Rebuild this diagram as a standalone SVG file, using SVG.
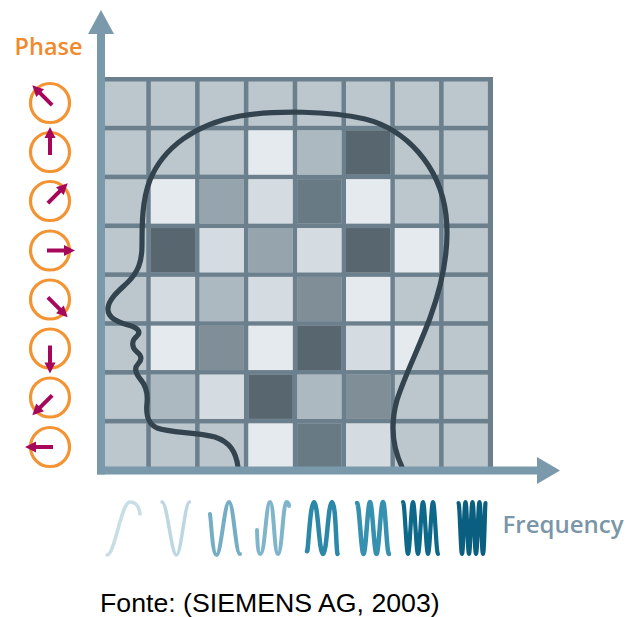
<svg xmlns="http://www.w3.org/2000/svg" xmlns:xlink="http://www.w3.org/1999/xlink" width="628" height="617" viewBox="0 0 628 617">
  <style>
    .axis { fill: #7a99aa; }
    .cell { stroke: none; }
    .d { fill: #bcc6cd; }
    .v { fill: #e5eaee; }
    .l { fill: #d4dce2; }
    .m1 { fill: #acb9c0; }
    .m2 { fill: #95a4ad; }
    .m3 { fill: #7f8e97; }
    .k1 { fill: #687a84; }
    .k2 { fill: #58676f; }
    .head { fill: none; stroke: #34444f; stroke-width: 5.2; stroke-linecap: round; stroke-linejoin: round; }
    .ring { fill: none; stroke: #f39332; stroke-width: 3.2; }
    .ph-arrow line { stroke: #a6075b; stroke-width: 4; }
    .ph-arrow polygon { fill: #a6075b; }
    .wave { fill: none; stroke-linecap: round; stroke-linejoin: round; }
    .lbl { font-family: "Open Sans", "Noto Sans", sans-serif; font-weight: 600; font-size: 23.5px; }
    .src { font-family: "Liberation Sans", Arial, sans-serif; font-size: 26.7px; fill: #000; }
  </style>
  <defs>
    <path id="head-shape" d="M238,467 C236,452 230,442 215,437 C195,432 170,433 157,428 C146,423 146,412 147,403 C148,393 146,386 141,380 C135,373 134,368 138,364 C143,359 141,355 136,351 C131,346 132,340 137,336 C142,331 136,327 128,325 C118,322 107,318 108,308 C109,298 120,290 128,282 C138,272 142,262 142,245 C142,225 142,200 150,180 C163,148 195,124 240,116 C275,110 330,111 365,119 C405,129 440,165 446,215 C450,250 442,285 430,318 C418,350 405,375 397,400 C390,425 393,448 402,467"/>
    <clipPath id="head-clip">
      <path d="M238,467 C236,452 230,442 215,437 C195,432 170,433 157,428 C146,423 146,412 147,403 C148,393 146,386 141,380 C135,373 134,368 138,364 C143,359 141,355 136,351 C131,346 132,340 137,336 C142,331 136,327 128,325 C118,322 107,318 108,308 C109,298 120,290 128,282 C138,272 142,262 142,245 C142,225 142,200 150,180 C163,148 195,124 240,116 C275,110 330,111 365,119 C405,129 440,165 446,215 C450,250 442,285 430,318 C418,350 405,375 397,400 C390,425 393,448 402,467 Z"/>
    </clipPath>
    <g id="ph-arrow" class="ph-arrow">
      <line x1="-3" y1="0" x2="15" y2="0"/>
      <polygon points="25,0 14,-5.5 14,5.5"/>
    </g>
  </defs>

  <!-- grid: line colour underneath, cells on top -->
  <g id="grid">
    <rect x="100" y="77" width="393" height="393" fill="#6b7f8c"/>
    <g id="base-cells" class="d">
      <rect x="102" y="81.5" width="44.3" height="44.3"/><rect x="150.8" y="81.5" width="44.3" height="44.3"/><rect x="199.6" y="81.5" width="44.3" height="44.3"/><rect x="248.4" y="81.5" width="44.3" height="44.3"/><rect x="297.2" y="81.5" width="44.3" height="44.3"/><rect x="346" y="81.5" width="44.3" height="44.3"/><rect x="394.8" y="81.5" width="44.3" height="44.3"/><rect x="443.6" y="81.5" width="44.3" height="44.3"/>
      <rect x="102" y="130.35" width="44.3" height="44.3"/><rect x="150.8" y="130.35" width="44.3" height="44.3"/><rect x="199.6" y="130.35" width="44.3" height="44.3"/><rect x="248.4" y="130.35" width="44.3" height="44.3"/><rect x="297.2" y="130.35" width="44.3" height="44.3"/><rect x="346" y="130.35" width="44.3" height="44.3"/><rect x="394.8" y="130.35" width="44.3" height="44.3"/><rect x="443.6" y="130.35" width="44.3" height="44.3"/>
      <rect x="102" y="179.2" width="44.3" height="44.3"/><rect x="150.8" y="179.2" width="44.3" height="44.3"/><rect x="199.6" y="179.2" width="44.3" height="44.3"/><rect x="248.4" y="179.2" width="44.3" height="44.3"/><rect x="297.2" y="179.2" width="44.3" height="44.3"/><rect x="346" y="179.2" width="44.3" height="44.3"/><rect x="394.8" y="179.2" width="44.3" height="44.3"/><rect x="443.6" y="179.2" width="44.3" height="44.3"/>
      <rect x="102" y="228.05" width="44.3" height="44.3"/><rect x="150.8" y="228.05" width="44.3" height="44.3"/><rect x="199.6" y="228.05" width="44.3" height="44.3"/><rect x="248.4" y="228.05" width="44.3" height="44.3"/><rect x="297.2" y="228.05" width="44.3" height="44.3"/><rect x="346" y="228.05" width="44.3" height="44.3"/><rect x="394.8" y="228.05" width="44.3" height="44.3"/><rect x="443.6" y="228.05" width="44.3" height="44.3"/>
      <rect x="102" y="276.9" width="44.3" height="44.3"/><rect x="150.8" y="276.9" width="44.3" height="44.3"/><rect x="199.6" y="276.9" width="44.3" height="44.3"/><rect x="248.4" y="276.9" width="44.3" height="44.3"/><rect x="297.2" y="276.9" width="44.3" height="44.3"/><rect x="346" y="276.9" width="44.3" height="44.3"/><rect x="394.8" y="276.9" width="44.3" height="44.3"/><rect x="443.6" y="276.9" width="44.3" height="44.3"/>
      <rect x="102" y="325.75" width="44.3" height="44.3"/><rect x="150.8" y="325.75" width="44.3" height="44.3"/><rect x="199.6" y="325.75" width="44.3" height="44.3"/><rect x="248.4" y="325.75" width="44.3" height="44.3"/><rect x="297.2" y="325.75" width="44.3" height="44.3"/><rect x="346" y="325.75" width="44.3" height="44.3"/><rect x="394.8" y="325.75" width="44.3" height="44.3"/><rect x="443.6" y="325.75" width="44.3" height="44.3"/>
      <rect x="102" y="374.6" width="44.3" height="44.3"/><rect x="150.8" y="374.6" width="44.3" height="44.3"/><rect x="199.6" y="374.6" width="44.3" height="44.3"/><rect x="248.4" y="374.6" width="44.3" height="44.3"/><rect x="297.2" y="374.6" width="44.3" height="44.3"/><rect x="346" y="374.6" width="44.3" height="44.3"/><rect x="394.8" y="374.6" width="44.3" height="44.3"/><rect x="443.6" y="374.6" width="44.3" height="44.3"/>
      <rect x="102" y="423.45" width="44.3" height="44.3"/><rect x="150.8" y="423.45" width="44.3" height="44.3"/><rect x="199.6" y="423.45" width="44.3" height="44.3"/><rect x="248.4" y="423.45" width="44.3" height="44.3"/><rect x="297.2" y="423.45" width="44.3" height="44.3"/><rect x="346" y="423.45" width="44.3" height="44.3"/><rect x="394.8" y="423.45" width="44.3" height="44.3"/><rect x="443.6" y="423.45" width="44.3" height="44.3"/>
    </g>
    <!-- tinted cells, visible only inside the head -->
    <g id="tinted-cells" clip-path="url(#head-clip)">
      <rect class="v" x="248.4" y="130.35" width="44.3" height="44.3"/>
      <rect class="m1" x="297.2" y="130.35" width="44.3" height="44.3"/>
      <rect class="k2" x="346" y="130.35" width="44.3" height="44.3"/>

      <rect class="v" x="150.8" y="179.2" width="44.3" height="44.3"/>
      <rect class="m2" x="199.6" y="179.2" width="44.3" height="44.3"/>
      <rect class="l" x="248.4" y="179.2" width="44.3" height="44.3"/>
      <rect class="k1" x="297.2" y="179.2" width="44.3" height="44.3"/>
      <rect class="v" x="346" y="179.2" width="44.3" height="44.3"/>

      <rect class="k2" x="150.8" y="228.05" width="44.3" height="44.3"/>
      <rect class="l" x="199.6" y="228.05" width="44.3" height="44.3"/>
      <rect class="m2" x="248.4" y="228.05" width="44.3" height="44.3"/>
      <rect class="l" x="297.2" y="228.05" width="44.3" height="44.3"/>
      <rect class="k2" x="346" y="228.05" width="44.3" height="44.3"/>
      <rect class="v" x="394.8" y="228.05" width="44.3" height="44.3"/>

      <rect class="l" x="150.8" y="276.9" width="44.3" height="44.3"/>
      <rect class="m1" x="199.6" y="276.9" width="44.3" height="44.3"/>
      <rect class="l" x="248.4" y="276.9" width="44.3" height="44.3"/>
      <rect class="m3" x="297.2" y="276.9" width="44.3" height="44.3"/>
      <rect class="v" x="346" y="276.9" width="44.3" height="44.3"/>

      <rect class="v" x="150.8" y="325.75" width="44.3" height="44.3"/>
      <rect class="m3" x="199.6" y="325.75" width="44.3" height="44.3"/>
      <rect class="v" x="248.4" y="325.75" width="44.3" height="44.3"/>
      <rect class="k2" x="297.2" y="325.75" width="44.3" height="44.3"/>
      <rect class="l" x="346" y="325.75" width="44.3" height="44.3"/>
      <rect class="v" x="394.8" y="325.75" width="44.3" height="44.3"/>

      <rect class="m1" x="150.8" y="374.6" width="44.3" height="44.3"/>
      <rect class="l" x="199.6" y="374.6" width="44.3" height="44.3"/>
      <rect class="k2" x="248.4" y="374.6" width="44.3" height="44.3"/>
      <rect class="m1" x="297.2" y="374.6" width="44.3" height="44.3"/>
      <rect class="m3" x="346" y="374.6" width="44.3" height="44.3"/>

      <rect class="v" x="248.4" y="423.45" width="44.3" height="44.3"/>
      <rect class="k1" x="297.2" y="423.45" width="44.3" height="44.3"/>
      <rect class="l" x="346" y="423.45" width="44.3" height="44.3"/>
    </g>
  </g>

  <!-- head silhouette -->
  <g id="head">
    <use xlink:href="#head-shape" class="head"/>
  </g>

  <!-- axes -->
  <g id="axes" class="axis">
    <rect x="97" y="30" width="8" height="444.5"/>
    <polygon points="101,10 88,34 114,34"/>
    <rect x="97" y="466.5" width="443" height="8"/>
    <polygon points="560,470.5 537,457 537,484"/>
  </g>

  <!-- phase rings with pointer -->
  <g id="phase">
    <text class="lbl" x="14.5" y="55" fill="#f08a2c">Phase</text>
    <g id="phase-0"><circle class="ring" cx="50" cy="103" r="19.5"/><use xlink:href="#ph-arrow" transform="translate(50,103) rotate(-135)"/></g>
    <g id="phase-1"><circle class="ring" cx="50" cy="152" r="19.5"/><use xlink:href="#ph-arrow" transform="translate(50,152) rotate(-90)"/></g>
    <g id="phase-2"><circle class="ring" cx="50" cy="201" r="19.5"/><use xlink:href="#ph-arrow" transform="translate(50,201) rotate(-45)"/></g>
    <g id="phase-3"><circle class="ring" cx="50" cy="250.5" r="19.5"/><use xlink:href="#ph-arrow" transform="translate(50,250.5) rotate(0)"/></g>
    <g id="phase-4"><circle class="ring" cx="50" cy="299.5" r="19.5"/><use xlink:href="#ph-arrow" transform="translate(50,299.5) rotate(45)"/></g>
    <g id="phase-5"><circle class="ring" cx="50" cy="348.5" r="19.5"/><use xlink:href="#ph-arrow" transform="translate(50,348.5) rotate(90)"/></g>
    <g id="phase-6"><circle class="ring" cx="50" cy="397.5" r="19.5"/><use xlink:href="#ph-arrow" transform="translate(50,397.5) rotate(135)"/></g>
    <g id="phase-7"><circle class="ring" cx="50" cy="447" r="19.5"/><use xlink:href="#ph-arrow" transform="translate(50,447) rotate(180)"/></g>
  </g>

  <!-- frequency samples, rising from left to right -->
  <g id="frequency">
    <path class="wave" stroke="#c8dee7" stroke-width="3.5" d="M107,555 C115,555 121,502 130,502 C135,502 139,506 140,514"/>
    <path class="wave" stroke="#bdd7e2" stroke-width="3.5" d="M162,502 C167.3,502 171.2,555 176.5,555 C181.2,555 184.8,502 189.5,502"/>
    <path class="wave" stroke="#74adc4" stroke-width="4" d="M210,514 C211.5,525 212.5,555 216.5,555 C221,555 224.5,502 229,502 C233.5,502 235.5,554 240,554"/>
    <path class="wave" stroke="#7fb5cb" stroke-width="4" d="M257,530 C257.5,545 258,554 260.5,554 C265,554 266,502 270,502 C274,502 274,554 278,554 C282,554 283,502 286.5,502 C288,502 289,504 289,506"/>
    <path class="wave" stroke="#2c88a8" stroke-width="4.5" d="M307,551 C308,556 310,502 314,502 C318,502 319,554 323,554 C327,554 328,502 332,502 C336,502 336,550 337.5,554"/>
    <path class="wave" stroke="#3690b0" stroke-width="4.5" d="M357,503 C359.4,503 361.1,554 363.5,554 S367.6,502 370,502 S374.1,554 376.5,554 S380.6,502 383,502 S386.6,554 389,554"/>
    <path class="wave" stroke="#0e6889" stroke-width="4.2" d="M403,502 C404.8,502 406.2,554 408,554 S411.2,502 413,502 S416.2,554 418,554 S421.2,502 423,502 S426.2,554 428,554 S431.2,502 433,502 S436.2,554 438,554"/>
    <path class="wave" stroke="#0a5f80" stroke-width="4.2" d="M458.5,503 C459.8,503 460.7,554 462,554 S464.2,502 465.5,502 S467.7,554 469,554 S471.2,502 472.5,502 S474.7,554 476,554 S478.2,502 479.5,502 S481.7,554 483,554 S485,503 485.5,503"/>
    <text class="lbl" x="502.5" y="533" fill="#7a96a8" style="font-size:24px">Frequency</text>
  </g>

  <text class="src" x="100" y="612">Fonte: (SIEMENS AG, 2003)</text>
</svg>
